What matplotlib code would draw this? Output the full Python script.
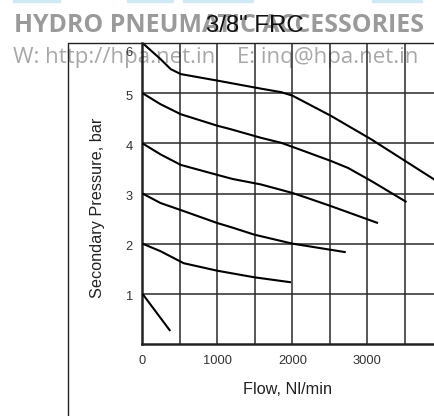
import matplotlib
matplotlib.use('Agg')
import matplotlib.pyplot as plt
from matplotlib.lines import Line2D
from matplotlib.patches import Rectangle
from matplotlib.transforms import ScaledTranslation

# curves, one per set pressure (Nl/min vs bar)
flow_6 = [0, 240, 375, 510, 1000, 1580, 1850, 2000, 2510, 3050, 3920, 4000]
pres_6 = [6.0, 5.68, 5.48, 5.38, 5.25, 5.09, 5.02, 4.95, 4.55, 4.08, 3.25, 3.18]

flow_5 = [0, 240, 510, 1000, 1180, 1580, 1850, 2000, 2510, 2740, 3050, 3520]
pres_5 = [5.0, 4.78, 4.58, 4.35, 4.28, 4.11, 4.01, 3.93, 3.65, 3.51, 3.25, 2.83]

flow_4 = [0, 240, 510, 1000, 1200, 1580, 2000, 2200, 2510, 3140]
pres_4 = [4.0, 3.78, 3.57, 3.37, 3.29, 3.18, 3.01, 2.91, 2.75, 2.41]

flow_3 = [0, 240, 510, 1000, 1200, 1490, 2000, 2710]
pres_3 = [3.0, 2.81, 2.67, 2.41, 2.32, 2.18, 2.0, 1.83]

flow_2 = [0, 240, 550, 1000, 1490, 1980]
pres_2 = [2.0, 1.85, 1.61, 1.46, 1.33, 1.23]

flow_1 = [0, 370]
pres_1 = [1.0, 0.26]

curves = [(flow_6, pres_6), (flow_5, pres_5), (flow_4, pres_4),
          (flow_3, pres_3), (flow_2, pres_2), (flow_1, pres_1)]

x_ticks = [0, 1000, 2000, 3000]
x_tick_labels = ['0', '1000', '2000', '3000']
y_ticks = [1, 2, 3, 4, 5, 6]
y_tick_labels = ['1', '2', '3', '4', '5', '6']
x_grid = [500, 1000, 1500, 2000, 2500, 3000, 3500]
y_grid = [1, 2, 3, 4, 5, 6]

W, H = 435, 416
fig = plt.figure(figsize=(W / 100, H / 100), dpi=100)
fig.patch.set_facecolor('white')

# watermark header (behind the chart)
fig.text(14 / W, 1 - 32 / H, 'HYDRO PNEUMATIC ACCESSORIES', family='Open Sans',
         weight='bold', fontsize=17.9, color='#9a9a9a', ha='left', va='baseline', zorder=-2)
fig.text(13 / W, 1 - 63 / H, 'W: http://hpa.net.in', family='Open Sans',
         fontsize=16, color='#a8a8a8', ha='left', va='baseline', zorder=-2)
fig.text(237 / W, 1 - 63 / H, 'E: inq@hpa.net.in', family='Open Sans',
         fontsize=16, color='#a8a8a8', ha='left', va='baseline', zorder=-2)
for x0, x1 in [(13, 60), (127, 173), (183, 253), (372, 422)]:
    fig.patches.append(Rectangle((x0 / W, 1 - 2 / H), (x1 - x0) / W, 2 / H,
                                 transform=fig.transFigure, color='#cfe9f5', zorder=-2))

ax = fig.add_axes([142.5 / W, (H - 344) / H, 300 / W, 301 / H])
ax.set_facecolor('none')

for fx, py in curves:
    ax.plot(fx, py, color='black', lw=1.5, solid_capstyle='butt', zorder=3)

ax.vlines(x_grid, 0, 6, color='#2a2a2a', lw=1.1, zorder=1)
ax.hlines(y_grid, 0, 4000, color='#2a2a2a', lw=1.1, zorder=1)

ax.set_xlim(0, 4000)
ax.set_ylim(0, 6)
ax.set_xticks(x_ticks)
ax.set_xticklabels(x_tick_labels)
ax.set_yticks(y_ticks)
ax.set_yticklabels(y_tick_labels)
ax.tick_params(axis='both', length=0, labelsize=9.3, labelcolor='#333333',
               labelfontfamily='Liberation Sans')
ax.tick_params(axis='x', pad=8)
ax.tick_params(axis='y', pad=7)

for s in ['top', 'right']:
    ax.spines[s].set_visible(False)
for s in ['left', 'bottom']:
    ax.spines[s].set_linewidth(1.8)
    ax.spines[s].set_color('#222222')

# y labels sit a little below their grid lines, "6" pushed inside the frame
for i, lab in enumerate(ax.get_yticklabels()):
    dy = -9 / 100 if i == len(y_ticks) - 1 else -2 / 100
    lab.set_transform(lab.get_transform() + ScaledTranslation(0, dy, fig.dpi_scale_trans))

fig.text(97.5 / W, 1 - 208 / H, 'Secondary Pressure, bar', rotation=90,
         family='Liberation Sans', fontsize=11.7, color='#222222', ha='center', va='center')
fig.text(288 / W, 1 - 389 / H, 'Flow, Nl/min', family='Liberation Sans',
         fontsize=11.7, color='#222222', ha='center', va='center')

# outer frame
fig.lines.append(Line2D([67.5 / W, 67.5 / W, 1], [0, 1 - 42.5 / H, 1 - 42.5 / H],
                        transform=fig.transFigure, color='#222222', lw=1.0, zorder=5))

fig.text(255 / W, 1 - 32 / H, '3/8" FRC', family='Liberation Sans', fontsize=17.3,
         color='#111111', ha='center', va='baseline', zorder=6)

fig.savefig('out.png', dpi=100)
